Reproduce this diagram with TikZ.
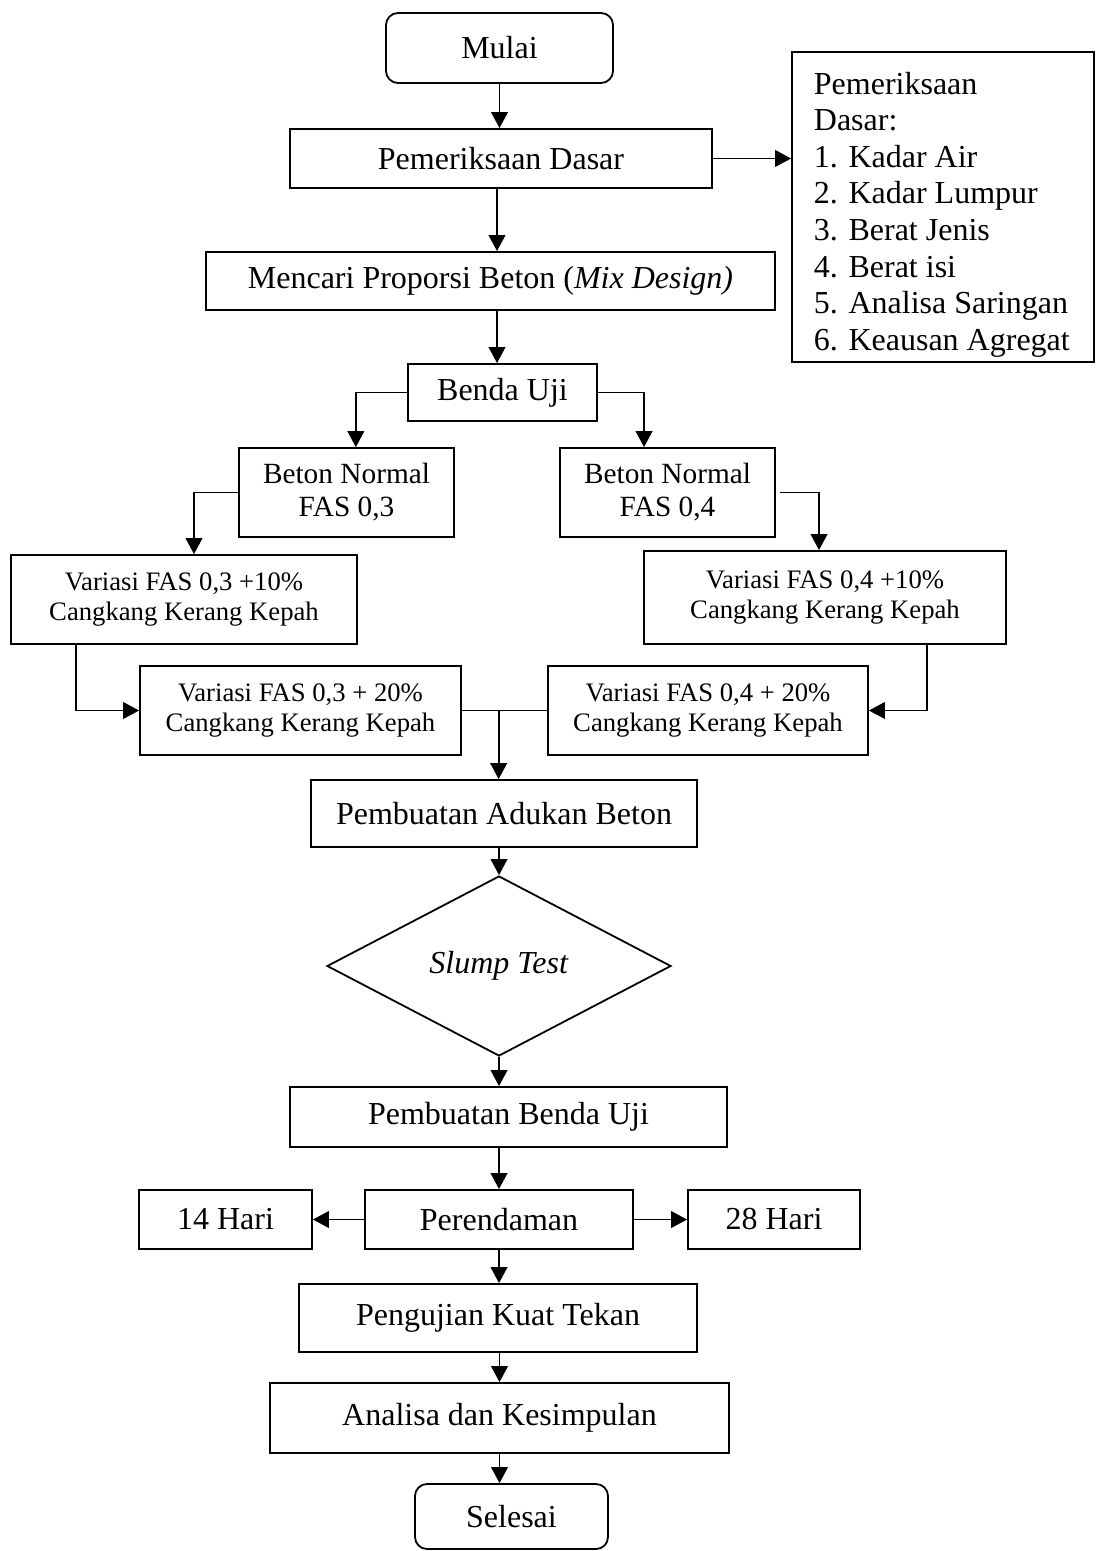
\documentclass[tikz,border=0pt]{standalone}
\usepackage{fontspec}
\setmainfont{Liberation Serif}
\usetikzlibrary{shapes.geometric,arrows.meta}
\begin{document}
\begin{tikzpicture}[x=0.75pt,y=-0.75pt,
  line width=1.35pt,
  box/.style={draw, rectangle, inner sep=0pt, align=center, font=\fontsize{24pt}{27.6pt}\selectfont},
  rbox/.style={box, rounded corners=9pt},
  sz/.style 2 args={minimum width=#1*0.75pt, minimum height=#2*0.75pt},
  bn/.style={font=\fontsize{22pt}{24.75pt}\selectfont},
  var/.style={font=\fontsize{20pt}{22.5pt}\selectfont},
  arr/.style={-{Triangle[length=12pt,width=12.5pt]}},
]
\useasboundingbox (0,0) rectangle (1096,1551);

% nodes
\node[rbox, sz={227}{70}] (mulai) at (499.5,48) {Mulai};
\node[box, sz={422}{59}] (pd) at (501,158.5) {Pemeriksaan Dasar};
\node[box, sz={302}{310}] (list) at (943,207) {};
\node[anchor=north west, align=left, inner sep=0pt, font=\fontsize{24pt}{27.45pt}\selectfont] (listtext) at (813,71)
  {Pemeriksaan\\Dasar:\\1. Kadar Air\\2. Kadar Lumpur\\3. Berat Jenis\\4. Berat isi\\5. Analisa Saringan\\6. Keausan Agregat};
\node[box, sz={569}{58}] (mix) at (490.5,281) {Mencari Proporsi Beton (\textit{Mix Design)}};
\node[box, sz={189}{57}] (benda) at (502.5,392.5) {Benda Uji};
\node[box, bn, sz={215}{89}] (bn3) at (346.5,492.5) {Beton Normal\\FAS 0,3};
\node[box, bn, sz={215}{89}] (bn4) at (667.5,492.5) {Beton Normal\\FAS 0,4};
\node[box, var, sz={346}{89}] (v31) at (184,599.5) {Variasi FAS 0,3 +10\%\\Cangkang Kerang Kepah};
\node[box, var, sz={362}{93}] (v41) at (825,597.5) {Variasi FAS 0,4 +10\%\\Cangkang Kerang Kepah};
\node[box, var, sz={321}{89}] (v32) at (300.5,710.5) {Variasi FAS 0,3 + 20\%\\Cangkang Kerang Kepah};
\node[box, var, sz={320}{89}] (v42) at (708,710.5) {Variasi FAS 0,4 + 20\%\\Cangkang Kerang Kepah};
\node[box, sz={386}{67}] (adukan) at (504,813.5) {Pembuatan Adukan Beton};
\node[draw, diamond, minimum width=258pt, minimum height=135pt, inner sep=0pt,
  font=\fontsize{24pt}{27.6pt}\selectfont] (slump) at (499,966) {\textit{Slump Test}};
\node[box, sz={437}{60}] (pbu) at (508.5,1117) {Pembuatan Benda Uji};
\node[box, sz={268}{59}] (rend) at (499,1219.5) {Perendaman};
\node[box, sz={173}{59}] (h14) at (225.5,1219.5) {14 Hari};
\node[box, sz={172}{59}] (h28) at (774,1219.5) {28 Hari};
\node[box, sz={398}{68}] (uji) at (498,1318) {Pengujian Kuat Tekan};
\node[box, sz={459}{70}] (anal) at (499.5,1418) {Analisa dan Kesimpulan};
\node[rbox, sz={193}{65}] (selesai) at (511.5,1516.5) {Selesai};

% helper coordinates
\coordinate (pdS) at ([xshift=-3pt]pd.south);
\coordinate (bendaN) at ([xshift=-4.1pt]benda.north);
\coordinate (bn3N) at ([xshift=7pt]bn3.north);
\coordinate (bn4N) at ([xshift=-17.6pt]bn4.north);
\coordinate (v31N) at ([xshift=7.5pt]v31.north);
\coordinate (bn4E) at ([xshift=3pt]bn4.east);
\coordinate (v41N) at ([xshift=-4.5pt]v41.north);
\coordinate (v31S) at ([xshift=-81pt]v31.south);
\coordinate (v41S) at ([xshift=76.5pt]v41.south);
\coordinate (adN) at ([xshift=-4pt]adukan.north);
\coordinate (m) at (adN |- v32.east);

% connectors
\draw[arr] (mulai.south) -- (mulai.south |- pd.north);
\draw[arr] (pd.east) -- (pd.east -| list.west);
\draw[arr] (pdS) -- (pdS |- mix.north);
\draw[arr] (bendaN |- mix.south) -- (bendaN);
\draw[arr] (benda.west) -| (bn3N);
\draw[arr] (benda.east) -| (bn4N);
\draw[arr] (bn3.west) -| (v31N);
\draw[arr] (bn4E) -| (v41N);
\draw[arr] (v31S) |- (v32.west);
\draw[arr] (v41S) |- (v42.east);
\draw (v32.east) -- (v42.west);
\draw[arr] (m) -- (adN);
\draw[arr] (slump.north |- adukan.south) -- (slump.north);
\draw[arr] (slump.south) -- (slump.south |- pbu.north);
\draw[arr] (rend.north |- pbu.south) -- (rend.north);
\draw[arr] (rend.west) -- (h14.east);
\draw[arr] (rend.east) -- (h28.west);
\draw[arr] (rend.south) -- (rend.south |- uji.north);
\draw[arr] (anal.north |- uji.south) -- (anal.north);
\draw[arr] (anal.south) -- (anal.south |- selesai.north);
\end{tikzpicture}
\end{document}
